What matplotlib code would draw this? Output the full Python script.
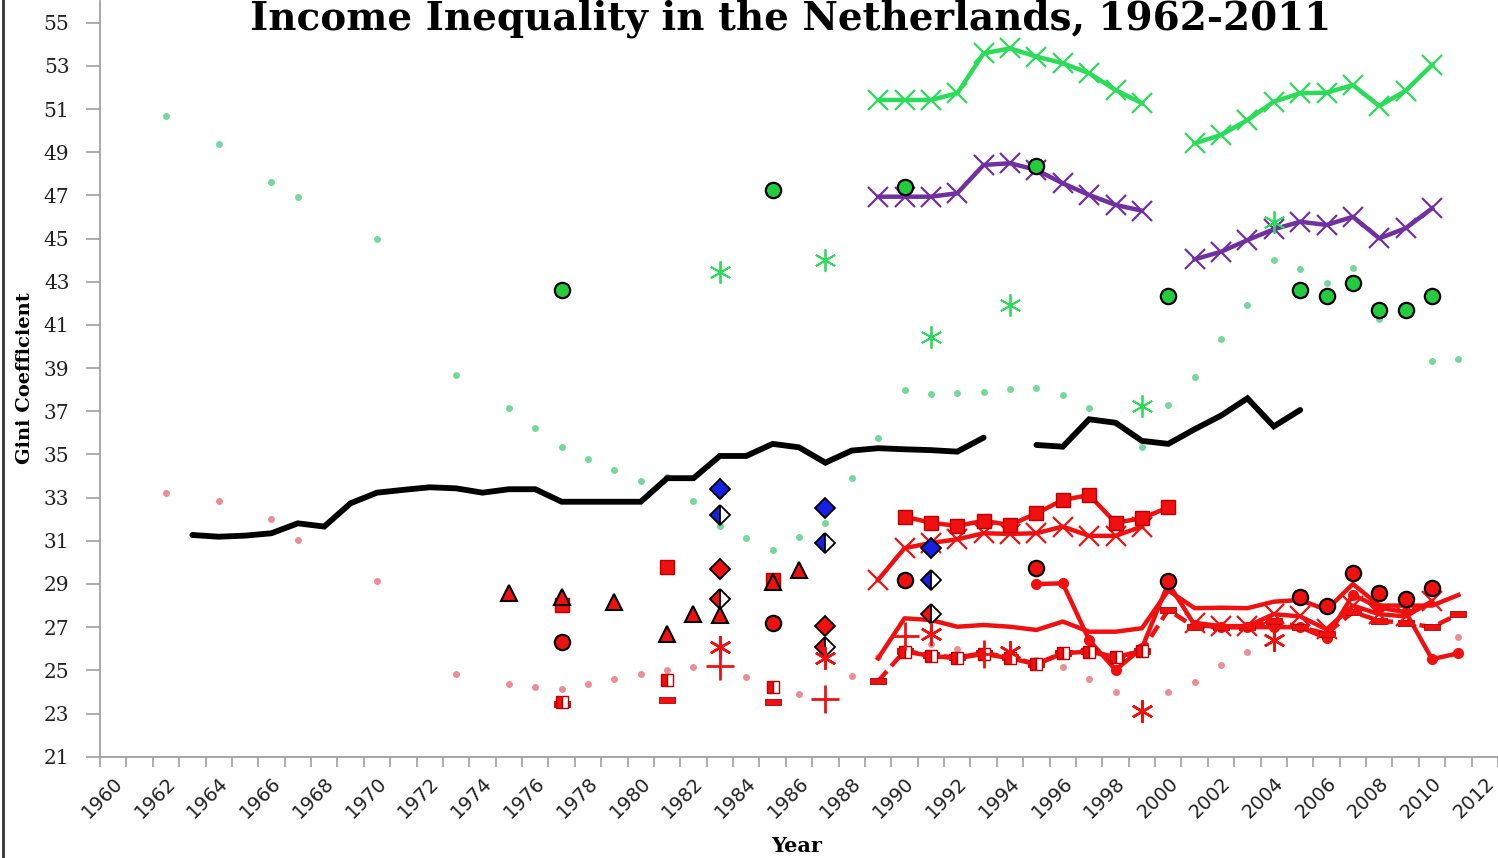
import numpy as np
import matplotlib
matplotlib.use("Agg")
import matplotlib.pyplot as plt
from matplotlib.path import Path
from matplotlib.lines import Line2D

nan = np.nan

# ---------------- data ----------------
black_years = list(range(1963, 2006))
black_vals = [31.27, 31.19, 31.24, 31.35, 31.81, 31.66, 32.74, 33.23, 33.36, 33.48,
              33.43, 33.23, 33.39, 33.39, 32.81, 32.81, 32.81, 32.81, 33.9, 33.9,
              34.93, 34.93, 35.49, 35.33, 34.62, 35.18, 35.29, 35.24, 35.2, 35.13,
              35.78, nan, 35.44, 35.36, 36.63, 36.47, 35.63, 35.49, 36.17, 36.8,
              37.6, 36.3, 37.06]

xline_years = list(range(1989, 2000)) + list(range(2001, 2011))
green_x_vals = [51.42, 51.42, 51.42, 51.73, 53.58, 53.81, 53.43, 53.12, 52.66, 51.88, 51.27,
                49.41, 49.8, 50.49, 51.34, 51.73, 51.76, 52.11, 51.14, 51.85, 53.04]
purple_x_vals = [46.94, 46.94, 46.94, 47.1, 48.41, 48.49, 48.18, 47.56, 47.02, 46.56, 46.29,
                 44.04, 44.39, 44.93, 45.43, 45.78, 45.63, 46.01, 45.01, 45.48, 46.4]
red_x_vals = [29.19, 30.66, 30.9, 31.07, 31.35, 31.32, 31.35, 31.66, 31.23, 31.23, 31.66,
              27.2, 27.05, 27.05, 27.6, 27.5, 26.9, 28.0, 27.6, 27.5, 28.2]

green_dot_years = [1962, 1964, 1966, 1967, 1970, 1973, 1975, 1976, 1977, 1978, 1979, 1980,
                   1981, 1982, 1983, 1984, 1985, 1986, 1987, 1988, 1989, 1990, 1991, 1992,
                   1993, 1994, 1995, 1996, 1997, 1998, 1999, 2000, 2001, 2002, 2003, 2004,
                   2005, 2006, 2007, 2008, 2010, 2011]
green_dot_vals = [50.66, 49.37, 47.64, 46.91, 45.0, 38.68, 37.14, 36.24, 35.33, 34.8, 34.28,
                  33.79, 33.97, 32.85, 31.69, 31.12, 30.58, 31.16, 31.84, 33.92, 35.76, 38.0,
                  37.8, 37.86, 37.9, 38.03, 38.1, 37.76, 37.14, 36.47, 35.36, 37.27, 38.58,
                  40.35, 41.93, 44.01, 43.58, 42.93, 43.65, 41.28, 39.35, 39.41]

pink_dot_years = [1962, 1964, 1966, 1967, 1970, 1973, 1975, 1976, 1977, 1978, 1979, 1980,
                  1981, 1982, 1984, 1986, 1988, 1989, 1991, 1992, 1995, 1996, 1997, 1998,
                  2000, 2001, 2002, 2003, 2011]
pink_dot_vals = [33.2, 32.85, 32.01, 31.04, 29.14, 24.84, 24.37, 24.25, 24.14, 24.37, 24.6,
                 24.83, 25.02, 25.14, 24.68, 23.9, 24.74, 25.6, 26.24, 26.0, 25.48, 25.15,
                 24.6, 24.01, 24.01, 24.48, 25.27, 25.86, 26.53]

circle_years = [1977, 1985, 1990, 1995, 2000, 2005, 2006, 2007, 2008, 2009, 2010]
green_circle_vals = [42.61, 47.24, 47.38, 48.35, 42.34, 42.61, 42.34, 42.94, 41.69, 41.69, 42.34]
red_circle_vals = [26.3, 27.21, 29.19, 29.73, 29.16, 28.39, 28.0, 29.5, 28.6, 28.29, 28.83]

asterisk_years = [1983, 1987, 1991, 1994, 1999, 2004]
green_asterisk_vals = [43.47, 44.0, 40.44, 41.93, 37.24, 45.76]
red_asterisk_vals = [26.07, 25.56, 26.69, 25.87, 23.13, 26.41]

plus_years = [1983, 1987, 1990, 1993]
plus_vals = [25.21, 23.66, 26.6, 25.76]

triangle_years = [1975, 1977, 1979, 1981, 1982, 1983, 1985, 1986]
triangle_vals = [28.57, 28.39, 28.18, 26.67, 27.61, 27.57, 29.11, 29.65]

diamond_years = [1983, 1987, 1991]
blue_diamond_vals = [33.4, 32.5, 30.66]
blue_half_diamond_vals = [32.2, 30.89, 29.19]
red_diamond_vals = [29.68, 27.06, nan]
red_half_diamond_vals = [28.29, 26.07, 27.6]

square_years = [1977, 1981, 1985] + list(range(1990, 2001))
square_vals = [28.02, 29.8, 29.19, 32.12, 31.84, 31.69, 31.93, 31.73, 32.27, 32.89, 33.12,
               31.84, 32.04, 32.55]

half_square_years = [1977, 1981, 1985] + list(range(1990, 2000))
half_square_vals = [23.52, 24.55, 24.24, 25.87, 25.67, 25.56, 25.76, 25.56, 25.28, 25.79,
                    25.87, 25.6, 25.9]

dash_years = [1977, 1981, 1985] + list(range(1989, 2012))
dash_vals = [23.43, 23.63, 23.52, 24.5, 25.9, 25.7, 25.6, 25.8, 25.6, 25.3, 25.8, 25.9, 25.6,
             25.9, 27.8, 27.0, 27.0, 27.0, 27.3, 27.0, 26.7, 27.7, 27.3, 27.2, 27.0, 27.6]

red_line_years = list(range(1989, 2012))
red_line_vals = [25.56, 27.41, 27.33, 27.02, 27.1, 27.02, 26.87, 27.26, 26.79, 26.79, 26.95,
                 28.7, 27.88, 27.9, 27.88, 28.18, 28.26, 27.8, 29.0, 28.0, 28.0, 28.0, 28.49]

red_dotline_years = list(range(1995, 2012))
red_dotline_vals = [29.0, 29.03, 26.4, 25.02, 26.03, 29.03, 27.1, 27.0, 27.0, 27.0, 27.0,
                    26.49, 28.5, 27.9, 27.7, 25.52, 25.79]

ytick_vals = list(range(21, 56, 2))
xtick_years = list(range(1960, 2013, 2))

title_text = "Income Inequality in the Netherlands, 1962-2011"
xlabel_text = "Year"
ylabel_text = "Gini Coefficient"


def with_gaps(yrs, vals):
    """Insert NaN where years are not consecutive so lines are not joined."""
    out_x, out_y = [], []
    for i, (x, v) in enumerate(zip(yrs, vals)):
        if i > 0 and x - yrs[i - 1] > 1:
            out_x.append(yrs[i - 1] + 0.5)
            out_y.append(nan)
        out_x.append(x)
        out_y.append(v)
    return out_x, out_y


# ---------------- styles ----------------
RED = "#f01010"
GREEN = "#2bdc58"
PURPLE = "#7030a0"
BLUE = "#1520e0"
dash_marker = Path([(-1, -0.38), (1, -0.38), (1, 0.38), (-1, 0.38), (-1, -0.38)],
                   [Path.MOVETO, Path.LINETO, Path.LINETO, Path.LINETO, Path.CLOSEPOLY])
asterisk = (6, 2, 0)

fig = plt.figure(figsize=(14.98, 8.58), dpi=100)
ax = fig.add_axes([100 / 1498, 101.3 / 858, 1 - 100 / 1498, (858 - 1.1 - 101.3) / 858])

# small dots
ax.plot(green_dot_years, green_dot_vals, ls="none", marker="o", ms=5,
        mfc="#74d89c", mec="none", zorder=2)
ax.plot(pink_dot_years, pink_dot_vals, ls="none", marker="o", ms=5,
        mfc="#ec8c94", mec="none", zorder=2)

# black line
ax.plot(black_years, black_vals, color="black", lw=4.2, solid_capstyle="round",
        solid_joinstyle="miter", zorder=3)

# green / purple lines with X
gx, gy = with_gaps(xline_years, green_x_vals)
ax.plot(gx, gy, color=GREEN, lw=3.2, marker="x", ms=15, mew=1.6, zorder=4)
px, py = with_gaps(xline_years, purple_x_vals)
ax.plot(px, py, color=PURPLE, lw=3.2, marker="x", ms=15, mew=1.6, zorder=4)

# red lines
ax.plot(red_line_years, red_line_vals, color=RED, lw=3.2, zorder=4)
ax.plot(red_dotline_years, red_dotline_vals, color=RED, lw=3.2, marker="o", ms=7,
        mfc=RED, mec=RED, zorder=4)
dx, dy = with_gaps(dash_years, dash_vals)
ax.plot(dx, dy, color=RED, lw=3.2, ls=(0, (3, 1.5)), marker=dash_marker, ms=12,
        mfc=RED, mec="#b00000", mew=0.6, zorder=4)
hx, hy = with_gaps(half_square_years, half_square_vals)
ax.plot(hx, hy, color=RED, lw=3.2, marker="s", ms=9, fillstyle="left",
        mfc=RED, mfcalt="white", mec="#c00000", mew=1.0, zorder=5)
rx, ry = with_gaps(xline_years, red_x_vals)
ax.plot(rx, ry, color=RED, lw=3.2, marker="x", ms=15, mew=1.6, zorder=5)
sx, sy = with_gaps(square_years, square_vals)
ax.plot(sx, sy, color=RED, lw=3.2, marker="s", ms=10, mfc=RED, mec="#c00000",
        mew=1.0, zorder=5)

# scattered markers
ax.plot(triangle_years, triangle_vals, ls="none", marker="^", ms=12, mfc=RED,
        mec="black", mew=1.5, zorder=6)
ax.plot(diamond_years, blue_diamond_vals, ls="none", marker="D", ms=10, mfc=BLUE,
        mec="black", mew=1.3, zorder=6)
ax.plot(diamond_years, blue_half_diamond_vals, ls="none", marker="D", ms=10,
        fillstyle="left", mfc=BLUE, mfcalt="white", mec="black", mew=1.3, zorder=6)
ax.plot(diamond_years, red_diamond_vals, ls="none", marker="D", ms=10, mfc=RED,
        mec="black", mew=1.3, zorder=6)
ax.plot(diamond_years, red_half_diamond_vals, ls="none", marker="D", ms=10,
        fillstyle="left", mfc=RED, mfcalt="white", mec="black", mew=1.3, zorder=6)
ax.plot(asterisk_years, green_asterisk_vals, ls="none", marker=asterisk, ms=16,
        mec=GREEN, mew=1.3, zorder=6)
ax.plot(asterisk_years, red_asterisk_vals, ls="none", marker=asterisk, ms=16,
        mec=RED, mew=1.8, zorder=6)
ax.plot(plus_years, plus_vals, ls="none", marker="+", ms=20, mec=RED, mew=2.0, zorder=6)
ax.plot(circle_years, green_circle_vals, ls="none", marker="o", ms=11, mfc="#22cc3c",
        mec="black", mew=1.6, zorder=7)
ax.plot(circle_years, red_circle_vals, ls="none", marker="o", ms=11, mfc=RED,
        mec="black", mew=1.6, zorder=7)

# ---------------- axes ----------------
ax.set_xlim(1959.5, 2012.5)
ax.set_ylim(21, 56)
for s in ("top", "right"):
    ax.spines[s].set_visible(False)
for s in ("left", "bottom"):
    ax.spines[s].set_color("#a0a0a0")
    ax.spines[s].set_linewidth(1.3)

ax.set_yticks(ytick_vals)
ax.set_yticklabels([str(v) for v in ytick_vals], family="DejaVu Serif", fontsize=14.5,
                   color="#222222")
ax.tick_params(axis="y", length=10, width=1.2, color="#a0a0a0", pad=12)

ax.set_xticks(xtick_years)
ax.set_xticklabels([str(v) for v in xtick_years], rotation=45, ha="right", va="top",
                   rotation_mode="anchor", family="DejaVu Sans", fontsize=14,
                   color="#222222")
ax.tick_params(axis="x", which="major", length=0, pad=12)
ax.set_xticks(np.arange(1959.5, 2013.0, 1.0), minor=True)
ax.tick_params(axis="x", which="minor", length=7, width=1.2, color="#a0a0a0")

fig.text(797 / 1498, 1 - 846 / 858, xlabel_text, family="DejaVu Serif", fontweight="bold",
         fontsize=15, ha="center", va="center")
fig.text(25 / 1498, 1 - 378 / 858, ylabel_text, family="DejaVu Serif", fontweight="bold",
         fontsize=14, ha="center", va="center", rotation=90)
fig.text(791 / 1498, 1 - 30 / 858, title_text, family="DejaVu Serif", fontweight="bold",
         fontsize=28, ha="center", va="baseline")

fig.add_artist(Line2D([3.5 / 1498, 3.5 / 1498], [0, 1], transform=fig.transFigure,
                      color="#333333", lw=2))

fig.savefig("out.png", dpi=100)
